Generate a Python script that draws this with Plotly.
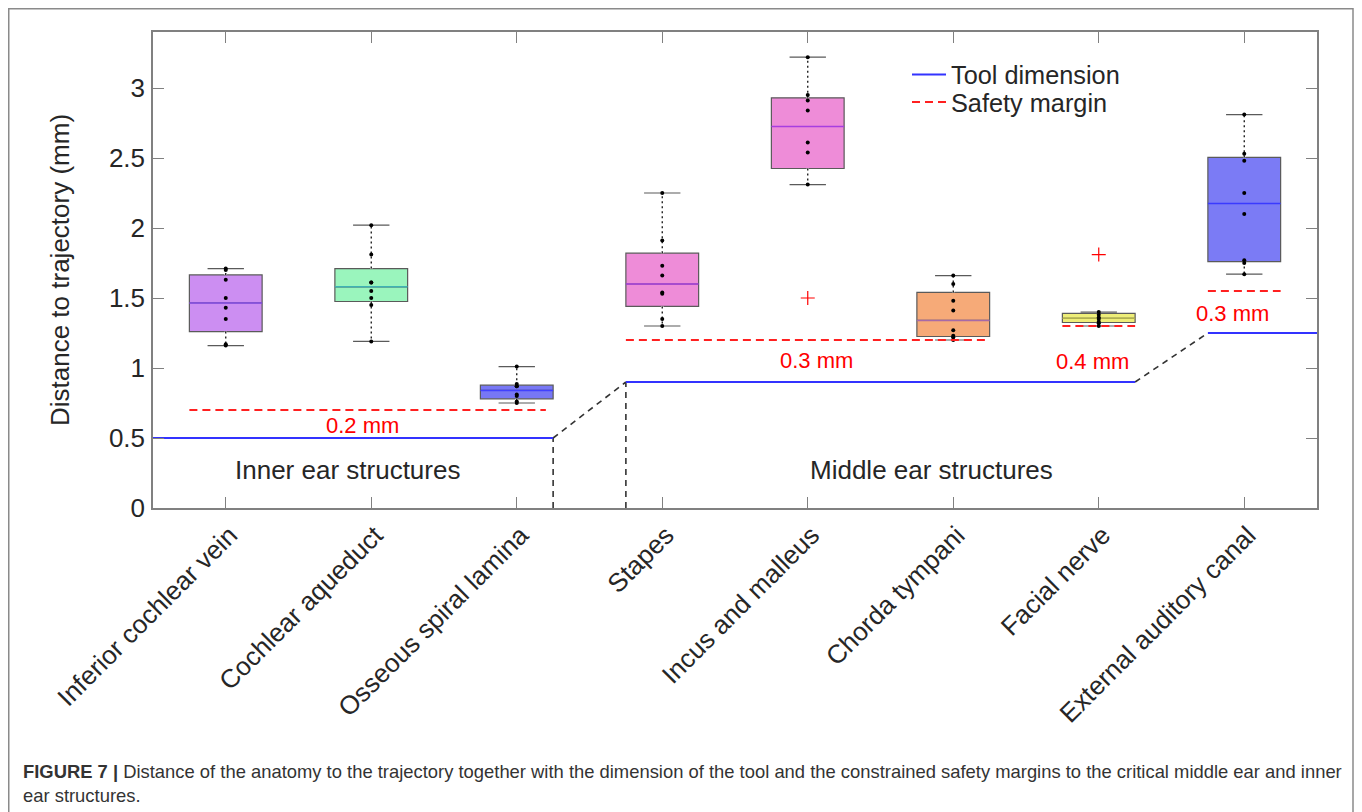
import numpy as np
import plotly.graph_objects as go

# ---------------- data ----------------
categories = ["Inferior cochlear vein", "Cochlear aqueduct", "Osseous spiral lamina",
              "Stapes", "Incus and malleus", "Chorda tympani", "Facial nerve",
              "External auditory canal"]

inferior_cochlear_vein = [1.16, 1.17, 1.35, 1.43, 1.50, 1.63, 1.70, 1.71]
cochlear_aqueduct = [1.19, 1.45, 1.50, 1.55, 1.61, 1.61, 1.81, 2.02]
osseous_spiral_lamina = [0.75, 0.76, 0.80, 0.81, 0.87, 0.87, 0.885, 1.01]
stapes = [1.30, 1.35, 1.53, 1.54, 1.66, 1.73, 1.91, 2.25]
incus_and_malleus = [1.50, 2.31, 2.54, 2.61, 2.84, 2.91, 2.95, 3.22]
chorda_tympani = [1.20, 1.22, 1.23, 1.27, 1.41, 1.48, 1.60, 1.66]
facial_nerve = [1.30, 1.32, 1.33, 1.35, 1.36, 1.38, 1.40, 1.81]
external_auditory_canal = [1.67, 1.75, 1.77, 2.10, 2.25, 2.48, 2.53, 2.81]

series = [inferior_cochlear_vein, cochlear_aqueduct, osseous_spiral_lamina, stapes,
          incus_and_malleus, chorda_tympani, facial_nerve, external_auditory_canal]

box_fill = ["#cc8ef2", "#9af5bd", "#7777f5", "#ee8cd8", "#ee8cd8", "#f6aa78", "#eeee78", "#7b7bf5"]
median_color = ["#8a4cf0", "#3fb3b3", "#4040ff", "#a83ee0", "#a83ee0", "#a66aa8", "#b0b050", "#3a3aff"]

# tool dimension (mm) per section, with x extents of each section
tool_x = [0.5, 3.25, None, 3.75, 7.25, None, 7.75, 8.5]
tool_y = [0.5, 0.5, None, 0.9, 0.9, None, 1.25, 1.25]
# transitions between sections
trans_x = [3.25, 3.75, None, 7.25, 7.75]
trans_y = [0.5, 0.9, None, 0.9, 1.25]
sep_x = [3.25, 3.25, None, 3.75, 3.75]
sep_y = [0.0, 0.5, None, 0.0, 0.9]
# safety margins (tool dimension + margin)
safe_x = [0.75, 3.2, None, 3.75, 6.25, None, 6.75, 7.25, None, 7.75, 8.25]
safe_y = [0.7, 0.7, None, 1.2, 1.2, None, 1.3, 1.3, None, 1.55, 1.55]
margin_labels = ["0.2 mm", "0.3 mm", "0.4 mm", "0.3 mm"]
margin_label_x = [1.94, 5.06, 6.96, 7.92]
margin_label_y = [0.59, 1.055, 1.05, 1.39]

FONT = "Liberation Sans, Arial, Helvetica, sans-serif"
TXT = "#262626"

# page has an 8px body margin: figure pixel = reference pixel - 8
OFF = 8
W, H = 1362 - OFF, 812 - OFF
PL, PR, PT, PB = 153 - OFF, 1317 - OFF, 32 - OFF, 508 - OFF


def px_x(ref):
    return (ref - OFF - PL) / (PR - PL)


def px_y(ref):
    return (PB - (ref - OFF)) / (PB - PT)


fig = go.Figure()


def mstats(v):
    s = np.sort(np.asarray(v, dtype=float))
    n = len(s)
    q1 = np.median(s[: n // 2])
    q3 = np.median(s[(n + 1) // 2:])
    med = np.median(s)
    iqr = q3 - q1
    inl = s[(s >= q1 - 1.5 * iqr) & (s <= q3 + 1.5 * iqr)]
    return q1, med, q3, inl.min(), inl.max(), inl


for i, v in enumerate(series):
    xi = i + 1
    fig.add_trace(go.Box(
        x=[xi] * len(v), y=v, width=0.5, fillcolor=box_fill[i],
        line=dict(color="#5a5a5a", width=1.2), whiskerwidth=0.5,
        boxpoints="outliers", quartilemethod="exclusive",
        marker=dict(symbol="cross-thin", size=10, color="red",
                    line=dict(color="red", width=1.2)),
        showlegend=False, hoverinfo="y"))

for i, v in enumerate(series):
    xi = i + 1
    q1, med, q3, lo, hi, inl = mstats(v)
    wx = [xi, xi, None, xi, xi]
    wy = [q3, hi, None, q1, lo]
    fig.add_trace(go.Scatter(x=wx, y=wy, mode="lines", line=dict(color="white", width=2.6),
                             showlegend=False, hoverinfo="skip"))
    fig.add_trace(go.Scatter(x=wx, y=wy, mode="lines",
                             line=dict(color="#111111", width=1.3, dash="2px,3px"),
                             showlegend=False, hoverinfo="skip"))
    fig.add_trace(go.Scatter(x=[xi - 0.25, xi + 0.25], y=[med, med], mode="lines",
                             line=dict(color=median_color[i], width=1.5),
                             showlegend=False, hoverinfo="skip"))
    fig.add_trace(go.Scatter(x=[xi] * len(inl), y=inl, mode="markers",
                             marker=dict(color="black", size=4),
                             showlegend=False, hoverinfo="y"))

fig.add_trace(go.Scatter(x=trans_x, y=trans_y, mode="lines",
                         line=dict(color="#333333", width=1.6, dash="6px,5px"),
                         showlegend=False, hoverinfo="skip"))
fig.add_trace(go.Scatter(x=sep_x, y=sep_y, mode="lines",
                         line=dict(color="#333333", width=1.6, dash="6px,5px"),
                         showlegend=False, hoverinfo="skip"))
fig.add_trace(go.Scatter(x=tool_x, y=tool_y, mode="lines", name="Tool dimension",
                         line=dict(color="#3333ff", width=2), legend="legend"))
fig.add_trace(go.Scatter(x=safe_x, y=safe_y, mode="lines", name="Safety margin",
                         line=dict(color="#ff2020", width=2, dash="8px,5px"), legend="legend2"))

for t, x, y in zip(margin_labels, margin_label_x, margin_label_y):
    fig.add_annotation(x=x, y=y, text=t, showarrow=False,
                       font=dict(family=FONT, size=22, color="#ff0000"))

fig.add_annotation(x=1.84, y=0.27, text="Inner ear structures", showarrow=False,
                   font=dict(family=FONT, size=26, color=TXT))
fig.add_annotation(x=5.85, y=0.27, text="Middle ear structures", showarrow=False,
                   font=dict(family=FONT, size=26, color=TXT))

# caption
CAP_FONT = "Liberation Sans Narrow, Liberation Sans, Arial, sans-serif"
fig.add_annotation(xref="paper", yref="paper", x=px_x(21), y=px_y(771), xanchor="left", yanchor="middle",
                   showarrow=False, align="left",
                   text="<b>FIGURE 7 |</b> Distance of the anatomy to the trajectory together with the dimension of the tool and the constrained safety margins to the critical middle ear and inner",
                   font=dict(family=CAP_FONT, size=18.4, color="#333333"))
fig.add_annotation(xref="paper", yref="paper", x=px_x(21), y=px_y(795), xanchor="left", yanchor="middle",
                   showarrow=False, align="left", text="ear structures.",
                   font=dict(family=CAP_FONT, size=18.4, color="#333333"))

fig.add_shape(type="rect", xref="paper", yref="paper",
              x0=px_x(8.75), x1=px_x(1353), y0=px_y(840), y1=px_y(8.75),
              line=dict(color="#8a8a8a", width=1.5), fillcolor="rgba(0,0,0,0)", layer="below")

leg_common = dict(xanchor="left", yanchor="middle", bgcolor="rgba(0,0,0,0)",
                  font=dict(family=FONT, size=25.3, color=TXT), itemwidth=34)

fig.update_layout(
    width=W, height=H,
    margin=dict(l=PL, r=W - PR, t=PT, b=H - PB),
    paper_bgcolor="white", plot_bgcolor="white",
    font=dict(family=FONT, size=26, color=TXT),
    boxmode="overlay",
    legend=dict(x=px_x(907), y=px_y(74.5), **leg_common),
    legend2=dict(x=px_x(907), y=px_y(102), **leg_common),
    xaxis=dict(range=[0.5, 8.5], tickmode="array", tickvals=list(range(1, 9)),
               ticktext=categories, tickangle=-45, ticks="inside", ticklen=11,
               tickcolor="#808080", showline=True, linecolor="#808080", linewidth=1.5,
               mirror="ticks", showgrid=False, zeroline=False, ticklabelshift=4,
               tickfont=dict(size=26, color=TXT)),
    yaxis=dict(range=[0, 3.4], tickmode="array", tickvals=[0, 0.5, 1, 1.5, 2, 2.5, 3],
               ticktext=["0", "0.5", "1", "1.5", "2", "2.5", "3"], ticks="inside", ticklen=11,
               tickcolor="#808080", showline=True, linecolor="#808080", linewidth=1.5,
               mirror="ticks", showgrid=False, zeroline=False, ticklabelstandoff=1,
               tickfont=dict(size=26, color=TXT),
               title=dict(text="Distance to trajectory (mm)", standoff=32,
                          font=dict(size=26, color=TXT))),
)

fig.write_html("out.html")
